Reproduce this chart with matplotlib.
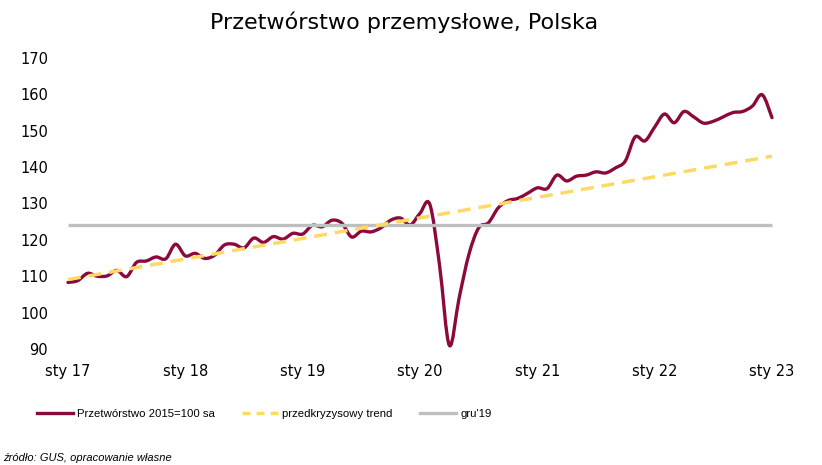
import matplotlib
matplotlib.use("Agg")
import matplotlib.pyplot as plt
from matplotlib.path import Path
from matplotlib.patches import PathPatch
from matplotlib.lines import Line2D

# monthly index, sa 2015=100, Jan 2017 .. Jan 2023
production = [
    108.3, 108.8, 110.8, 110.0, 110.1, 111.6, 109.9, 113.8, 114.2, 115.3, 114.8, 118.8,
    115.6, 116.3, 114.9, 115.8, 118.6, 118.8, 117.8, 120.5, 119.3, 120.9, 120.2, 121.8,
    121.6, 124.0, 123.6, 125.4, 124.6, 120.8, 122.4, 122.2, 123.3, 125.4, 126.0, 124.1,
    127.3, 129.8, 113.0, 91.0, 104.0, 116.0, 123.3, 124.7, 128.8, 130.8, 131.4, 132.8,
    134.3, 134.1, 137.8, 136.2, 137.5, 137.8, 138.7, 138.4, 139.8, 141.7, 148.3, 147.2,
    151.0, 154.6, 152.2, 155.3, 153.8, 152.1, 152.6, 153.8, 155.0, 155.3, 156.8, 159.9,
    153.6,
]
trend_start = 109.1   # sty 17
trend_end = 143.0     # sty 23
dec19_level = 124.1
tick_labels = ["sty 17", "sty 18", "sty 19", "sty 20", "sty 21", "sty 22", "sty 23"]

RED = "#8C0A3B"
YELLOW = "#FFD966"
GRAY = "#BFBFBF"

months = list(range(len(production)))
last = months[-1]


def smooth_path(xs, ys):
    # excel-like smoothed line: cubic bezier through every point
    n = len(xs)
    verts = [(xs[0], ys[0])]
    codes = [Path.MOVETO]
    for i in range(n - 1):
        i0 = max(i - 1, 0)
        i3 = min(i + 2, n - 1)
        c1 = (xs[i] + (xs[i + 1] - xs[i0]) / 6, ys[i] + (ys[i + 1] - ys[i0]) / 6)
        c2 = (xs[i + 1] - (xs[i3] - xs[i]) / 6, ys[i + 1] - (ys[i3] - ys[i]) / 6)
        verts += [c1, c2, (xs[i + 1], ys[i + 1])]
        codes += [Path.CURVE4] * 3
    return Path(verts, codes)


W, H = 822, 465
fig = plt.figure(figsize=(W / 100, H / 100), dpi=100)

# plot area in pixels
left, right, top, bottom = 60, 780, 58, 349
ax = fig.add_axes([left / W, 1 - bottom / H, (right - left) / W, (bottom - top) / H])
px_per_month = (772 - 68) / 72
ax.set_xlim((left - 68) / px_per_month, (right - 68) / px_per_month)
ax.set_ylim(90, 170)

ax.plot([0, last], [dec19_level, dec19_level], color=GRAY, lw=2.4, solid_capstyle="butt")
ax.plot([0, last], [trend_start, trend_end], color=YELLOW, lw=2.5, dashes=(3.7, 2.3))
ax.add_patch(PathPatch(smooth_path(months, production), facecolor="none", edgecolor=RED,
                       lw=2.4, capstyle="round", joinstyle="round", clip_on=False))

for s in ax.spines.values():
    s.set_visible(False)
ax.set_xticks(range(0, 73, 12))
ax.set_xticklabels(tick_labels)
ax.set_yticks(range(90, 171, 10))
ax.tick_params(length=0, labelsize=10.5, colors="#000000")
ax.tick_params(axis="y", pad=8.6)
ax.tick_params(axis="x", pad=11)

fig.text(404 / W, 1 - 22 / H, "Przetwórstwo przemysłowe, Polska", ha="center", va="center",
         fontsize=16, color="#000000")

handles = [
    Line2D([], [], color=RED, lw=2.4),
    Line2D([], [], color=YELLOW, lw=2.5, dashes=(2.3, 1.75)),
    Line2D([], [], color=GRAY, lw=2.4),
]
labels = ["Przetwórstwo 2015=100 sa", "przedkryzysowy trend", "gru'19"]
fig.legend(handles, labels, loc="center left", bbox_to_anchor=(37 / W, 1 - 414 / H),
           ncol=3, frameon=False, borderpad=0, borderaxespad=0, handlelength=3.13,
           handletextpad=0.41, columnspacing=2.37, prop={"family": "Liberation Sans", "size": 8.2})

fig.text(3 / W, 1 - 458 / H, "źródło: GUS, opracowanie własne", ha="left", va="center",
         fontsize=8, style="italic", family="Liberation Sans", color="#000000")

fig.savefig("out.png", dpi=100)
